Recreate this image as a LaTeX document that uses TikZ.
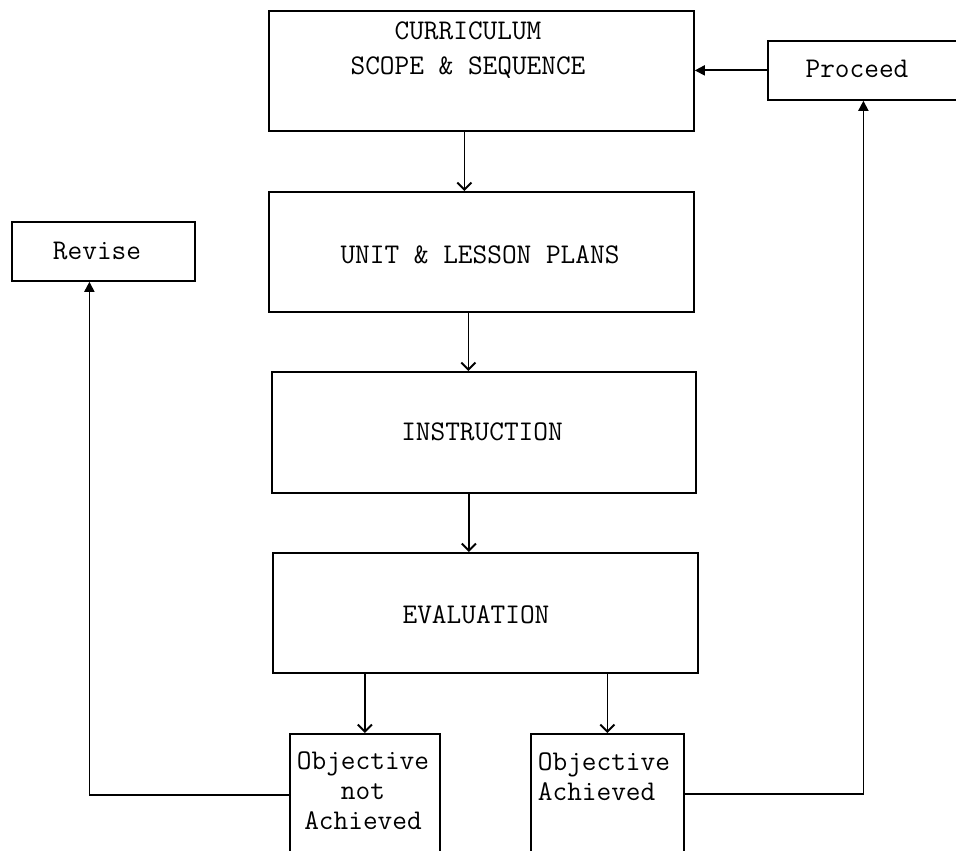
\documentclass[tikz,border=0pt]{standalone}
\usetikzlibrary{arrows.meta,calc}
\begin{document}
\begin{tikzpicture}[x=1pt,y=-1pt,
  line width=1.8pt,
  box/.style={draw,rectangle,inner sep=0pt,anchor=north west},
  lab/.style={font=\ttfamily\fontsize{28.5}{30}\selectfont,inner sep=0pt},
  dn/.style={-{Straight Barb[length=7pt,width=14pt,line width=2pt]}},
  upa/.style={-{Triangle[length=10pt,width=10pt]}}
]
\useasboundingbox (0,0) rectangle (956,851);
% boxes
\node[box,minimum width=425pt,minimum height=120pt] (cur) at (268,10) {};
\node[box,minimum width=191pt,minimum height=59pt] (proc) at (767,40) {};
\node[box,minimum width=183pt,minimum height=59pt] (rev) at (11,221) {};
\node[box,minimum width=425pt,minimum height=120pt] (unit) at (268,191) {};
\node[box,minimum width=424pt,minimum height=121pt] (instr) at (271,371) {};
\node[box,minimum width=425pt,minimum height=120pt] (eval) at (272,552) {};
\node[box,minimum width=150pt,minimum height=122pt] (nach) at (289,733) {};
\node[box,minimum width=153pt,minimum height=120pt] (ach) at (530,733) {};
% texts
\node[lab,align=center] (tcur) at (468,50) {CURRICULUM\\[5pt]SCOPE \& SEQUENCE};
\node[lab] (tproc) at (857,69) {Proceed};
\node[lab] (trev) at (97,251) {Revise};
\node[lab] (tunit) at (480,255) {UNIT \& LESSON PLANS};
\node[lab] (tinstr) at (482,432) {INSTRUCTION};
\node[lab] (teval) at (476,615) {EVALUATION};
\node[lab,align=center] (tnach) at (363,791) {Objective\\not\\Achieved};
\node[lab,align=left,anchor=west] (tach) at (537,777) {Objective\\Achieved};
% connectors
\draw[dn] ([xshift=-17pt]cur.south) -- ([xshift=-17pt]cur.south |- unit.north);
\draw[dn] ([xshift=-13pt]unit.south) -- ([xshift=-13pt]unit.south |- instr.north);
\draw[dn] ([xshift=-15pt]instr.south) -- ([xshift=-15pt]instr.south |- eval.north);
\draw[dn] (nach.north |- eval.south) -- (nach.north);
\draw[dn] (ach.north |- eval.south) -- (ach.north);
\draw[upa] (proc.west) -- (proc.west -| cur.east);
\draw[upa] (nach.west) -| ([xshift=-14pt]rev.south);
\draw[upa] (ach.east) -| (proc.south);
\end{tikzpicture}
\end{document}
